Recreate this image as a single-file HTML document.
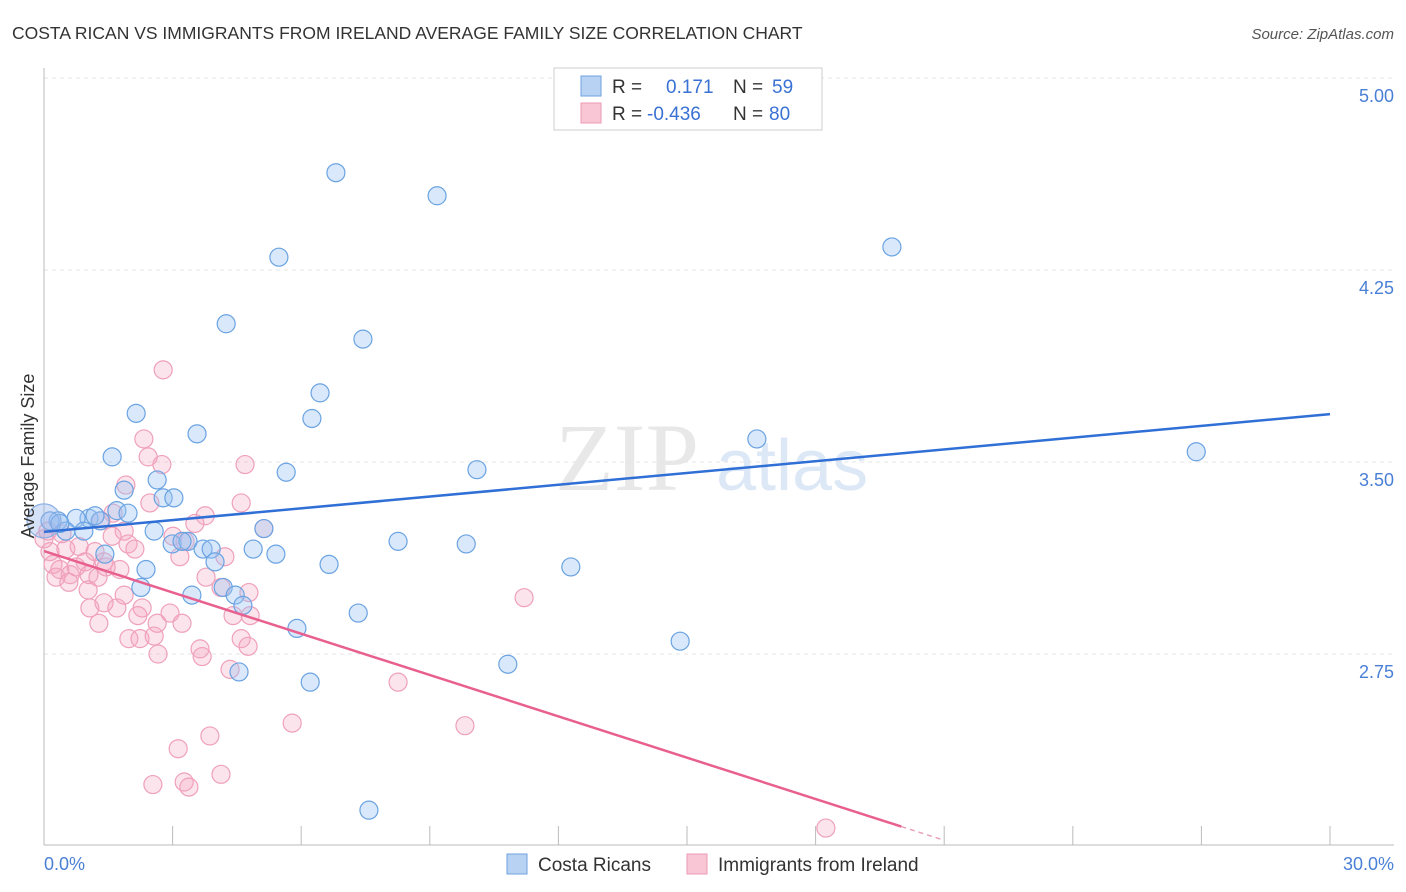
<!DOCTYPE html>
<html><head><meta charset="utf-8"><style>
body{margin:0;background:#fff;font-family:"Liberation Sans",sans-serif;}
svg{display:block}
</style></head><body>
<svg id="c" width="1406" height="892">
<text x="12" y="39" font-size="17.5" fill="#333">COSTA RICAN VS IMMIGRANTS FROM IRELAND AVERAGE FAMILY SIZE CORRELATION CHART</text>
<text x="1394" y="39" font-size="15" fill="#555" font-style="italic" text-anchor="end">Source: ZipAtlas.com</text>
<text x="555" y="490" font-size="96" fill="#e8e8e8" font-family="Liberation Serif">ZIP</text>
<text x="716" y="490" font-size="72" fill="#dde8f6">atlas</text>
<g id="grid"></g><g id="pts"></g><g id="lines"></g>
<text transform="translate(34,456) rotate(-90)" font-size="18" fill="#333" text-anchor="middle">Average Family Size</text>
<text x="44" y="870" font-size="18" fill="#4a7fd6">0.0%</text>
<text x="1394" y="870" font-size="18" fill="#4a7fd6" text-anchor="end">30.0%</text>
<g>
<rect x="554" y="68" width="268" height="62" fill="#fff" stroke="#ccc"/>
<rect x="581" y="76" width="20" height="20" fill="#b8d2f3" stroke="#6fa2e0"/>
<rect x="581" y="103" width="20" height="20" fill="#f9c6d5" stroke="#ec9ab4"/>
<text x="612" y="93" font-size="19" fill="#333">R =</text><text x="666" y="93" font-size="19" fill="#3a72d4">0.171</text>
<text x="733" y="93" font-size="19" fill="#333">N =</text><text x="772" y="93" font-size="19" fill="#3a72d4">59</text>
<text x="612" y="120" font-size="19" fill="#333">R =</text><text x="647" y="120" font-size="19" fill="#3a72d4">-0.436</text>
<text x="733" y="120" font-size="19" fill="#333">N =</text><text x="769" y="120" font-size="19" fill="#3a72d4">80</text>
</g>
<g>
<rect x="507" y="854" width="20" height="20" fill="#b8d2f3" stroke="#6fa2e0"/>
<text x="538" y="871" font-size="19" fill="#333">Costa Ricans</text>
<rect x="687" y="854" width="20" height="20" fill="#f9c6d5" stroke="#ec9ab4"/>
<text x="718" y="871" font-size="19" fill="#333">Immigrants from Ireland</text>
</g>
</svg>
<script>
const yTicks=[5.00,4.25,3.50,2.75];
const blueX=[6.81,9.17,19.78,5.48,4.25,7.44,6.44,2.15,6.25,3.57,16.63,1.59,26.88,10.10,5.65,2.64,1.87,2.78,3.03,1.70,1.96,1.05,0.75,0.33,0.14,0.51,0.93,1.31,2.57,5.13,8.26,9.85,2.99,3.36,3.22,3.71,3.90,4.88,5.41,1.42,3.99,6.65,2.38,12.29,4.18,2.26,4.46,3.45,4.64,7.33,5.90,14.84,10.82,4.55,6.21,7.58,0.37,1.19];
const blueY=[4.63,4.54,4.34,4.30,4.04,3.98,3.77,3.69,3.67,3.61,3.59,3.52,3.54,3.47,3.46,3.43,3.39,3.36,3.36,3.31,3.30,3.28,3.28,3.27,3.27,3.23,3.23,3.27,3.23,3.24,3.19,3.18,3.18,3.19,3.19,3.16,3.16,3.16,3.14,3.14,3.11,3.10,3.08,3.09,3.01,3.01,2.98,2.98,2.94,2.91,2.85,2.80,2.71,2.68,2.64,2.14,3.26,3.29];
const pinkX=[2.78,2.33,2.43,2.75,4.69,1.91,2.47,4.60,3.76,3.52,5.13,1.61,1.33,1.87,1.59,3.01,3.29,0.51,0.14,1.96,2.12,3.17,4.22,0.82,1.19,0.96,0.21,0.37,0.61,0.75,1.05,1.40,1.77,1.45,1.26,0.28,0.58,1.03,1.87,3.78,4.13,4.78,11.20,1.07,1.40,1.70,2.29,2.19,2.94,3.22,1.28,2.64,4.41,1.98,2.24,2.57,4.60,4.76,2.66,3.64,3.69,4.34,8.26,5.79,9.82,3.87,3.13,4.13,3.27,3.38,2.54,18.24,4.81,0.09,0.42,0];
const pinkY=[3.86,3.59,3.52,3.49,3.49,3.41,3.34,3.34,3.29,3.26,3.24,3.30,3.27,3.23,3.21,3.21,3.19,3.16,3.15,3.18,3.16,3.13,3.13,3.17,3.15,3.11,3.10,3.08,3.06,3.09,3.06,3.11,3.08,3.09,3.05,3.05,3.03,3.00,2.98,3.05,3.01,2.99,2.97,2.93,2.95,2.93,2.93,2.90,2.91,2.87,2.87,2.87,2.90,2.81,2.81,2.82,2.81,2.78,2.75,2.77,2.74,2.69,2.64,2.48,2.47,2.43,2.38,2.28,2.25,2.23,2.24,2.07,2.90,3.23,3.22,3.20];
const blueTrend=[3.227,3.687];
const pinkTrend=[3.152,-0.0538];
const NS='http://www.w3.org/2000/svg';
const X=v=>44+v/30*1286, Y=v=>462-(v-3.5)*256;
function mk(t,a,p){const e=document.createElementNS(NS,t);for(const k in a)e.setAttribute(k,a[k]);p.appendChild(e);return e;}
const g=document.getElementById('grid');
yTicks.forEach(t=>{
 const l=mk('line',{x1:44,x2:1394,y1:Y(t),y2:Y(t),stroke:'#e4e4e4','stroke-dasharray':'4,4'},g);
 
 
 const tx=mk('text',{x:1394,y:Y(t)+24,'font-size':18,fill:'#4a7fd6','text-anchor':'end'},g);
 tx.textContent=t.toFixed(2);
 
 
});
const ax=mk('line',{x1:44,x2:44,y1:68,y2:845,stroke:'#bbb'},g);


const bx=mk('line',{x1:44,x2:1394,y1:845,y2:845,stroke:'#bbb'},g);


for(let i=0;i<=10;i++){const tk=mk('line',{x1:X(i*3),x2:X(i*3),y1:826,y2:845,stroke:'#bbb'},g);
 
 }
const p=document.getElementById('pts');
pinkX.forEach((v,i)=>{const c=mk('circle',{cx:X(v),cy:Y(pinkY[i]),r:9,fill:'rgba(245,165,192,0.3)',stroke:'#efa0ba','stroke-width':1.2},p);
 
 });
blueX.forEach((v,i)=>{const c=mk('circle',{cx:X(v),cy:Y(blueY[i]),r:9,fill:'rgba(155,195,242,0.38)',stroke:'#6aa3e2','stroke-width':1.2},p);
 
 });
const big=mk('circle',{cx:X(0),cy:Y(3.27),r:17,fill:'rgba(150,180,235,0.4)',stroke:'#8ab0e3','stroke-width':1.2},p);


const L=document.getElementById('lines');
const bl=mk('line',{x1:X(0),y1:Y(blueTrend[0]),x2:X(30),y2:Y(blueTrend[1]),stroke:'#2f6fd6','stroke-width':2.5},L);


const pe=20, pd=21;
const pl=mk('line',{x1:X(0),y1:Y(pinkTrend[0]),x2:X(pe),y2:Y(pinkTrend[0]+pinkTrend[1]*pe),stroke:'#e8608f','stroke-width':2.5},L);


const pdl=mk('line',{x1:X(pe),y1:Y(pinkTrend[0]+pinkTrend[1]*pe),x2:X(pd),y2:Y(pinkTrend[0]+pinkTrend[1]*pd),stroke:'#e8a0b8','stroke-width':1.5,'stroke-dasharray':'5,4'},L);


</script>
</body></html>
